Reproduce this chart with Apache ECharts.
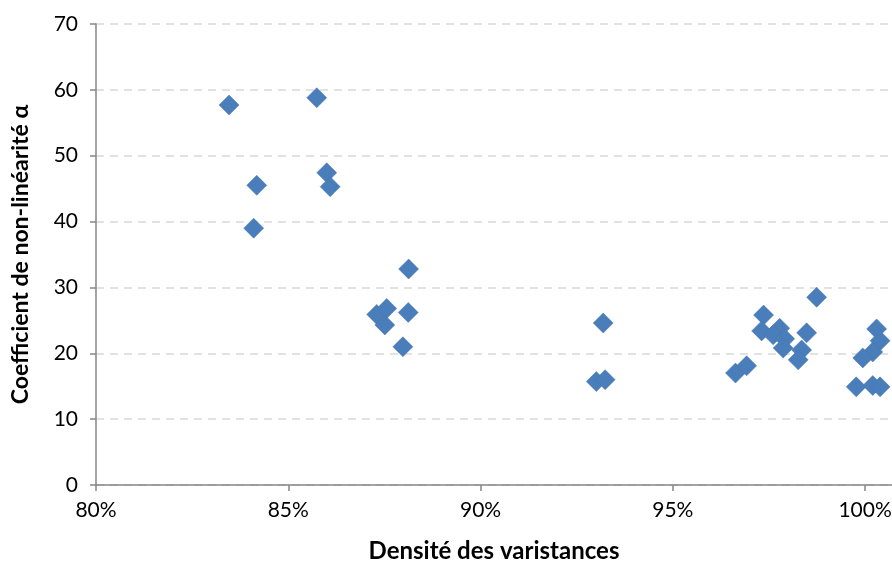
<!DOCTYPE html>
<html>
<head>
<meta charset="utf-8">
<script src="https://cdn.jsdelivr.net/npm/echarts@6/dist/echarts.min.js"></script>
<style>html,body{margin:0;padding:0;background:#fff;}#c{width:892px;height:563px;}</style>
</head>
<body>
<div id="c"></div>
<script>
// Densité des varistances (%)
const density = [83.46, 85.74, 84.18, 84.10, 86.00, 86.09, 88.13, 87.30, 87.56, 87.51, 88.12, 87.98,
  93.19, 93.01, 93.24, 96.63, 96.92, 98.74, 97.36, 97.31, 97.78, 97.61, 97.91, 97.87, 98.48, 98.35, 98.26,
  100.30, 100.39, 100.20, 99.94, 99.77, 100.20, 100.39];
// Coefficient de non-linéarité α
const alpha = [57.7, 58.8, 45.5, 39.0, 47.4, 45.3, 32.8, 25.9, 26.8, 24.3, 26.2, 21.0,
  24.6, 15.7, 16.0, 17.0, 18.1, 28.5, 25.8, 23.4, 23.8, 22.8, 22.2, 20.8, 23.1, 20.5, 19.0,
  23.7, 21.9, 20.2, 19.3, 14.9, 15.1, 14.9];
const xTicks = [80, 85, 90, 95, 100];
const yTicks = [0, 10, 20, 30, 40, 50, 60, 70];

const points = density.map((d, i) => [d, alpha[i]]);
const font = 'Lato, "Open Sans", sans-serif';
const chart = echarts.init(document.getElementById('c'), null, {renderer: 'canvas'});
chart.setOption({
  animation: false,
  grid: {left: 96, right: 0, top: 24, bottom: 78, containLabel: false, outerBoundsMode: 'none'},
  xAxis: {
    type: 'value', min: 80, max: 100.7, interval: 5,
    name: 'Densité des varistances', nameLocation: 'middle', nameGap: 54,
    nameTextStyle: {fontFamily: font, fontWeight: 'bold', fontSize: 24, color: '#000'},
    axisLine: {show: true, lineStyle: {color: '#868686', width: 1.5}},
    axisTick: {show: true, length: 6, lineStyle: {color: '#868686', width: 1.5}},
    axisLabel: {
      fontFamily: font, fontSize: 21, color: '#000', margin: 15, showMaxLabel: false,
      formatter: v => xTicks.includes(Math.round(v * 100) / 100) ? v + '%' : ''
    },
    splitLine: {show: false}
  },
  yAxis: {
    type: 'value', min: 0, max: 70, interval: 10,
    name: 'Coefficient de non-linéarité α', nameLocation: 'middle', nameGap: 64,
    nameTextStyle: {fontFamily: font, fontWeight: 'bold', fontSize: 23, color: '#000'},
    axisLine: {show: true, lineStyle: {color: '#868686', width: 1.5}},
    axisTick: {show: true, length: 6, lineStyle: {color: '#868686', width: 1.5}},
    axisLabel: {
      fontFamily: font, fontSize: 21, color: '#000', margin: 18,
      formatter: v => yTicks.includes(v) ? String(v) : ''
    },
    splitLine: {show: true, lineStyle: {color: '#D9D9D9', type: [8, 6], width: 1.5}}
  },
  series: [{
    type: 'scatter',
    data: points,
    symbol: 'diamond',
    symbolSize: 20,
    clip: false,
    itemStyle: {color: '#4A7EBB', opacity: 1, borderColor: '#4675B0', borderWidth: 0.5}
  }]
});
</script>
</body>
</html>
